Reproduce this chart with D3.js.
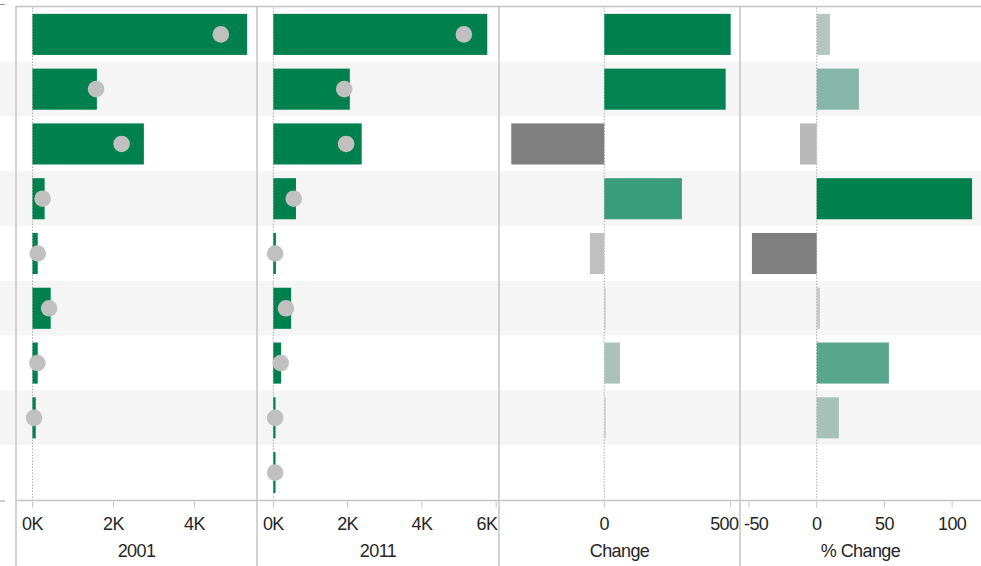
<!DOCTYPE html>
<html>
<head>
<meta charset="utf-8">
<script src="https://cdn.jsdelivr.net/npm/d3@7"></script>
<style>
  html, body { margin: 0; padding: 0; background: #fff; }
  svg { display: block; }
  text { font-family: "Liberation Sans", Arial, sans-serif; fill: #262626; }
</style>
</head>
<body>
<svg id="chart" width="981" height="566"></svg>
<script>
// ---- data ----
const categories = ["Row 1", "Row 2", "Row 3", "Row 4", "Row 5", "Row 6", "Row 7", "Row 8", "Row 9"];
const values2001 = [5300, 1590, 2750, 300, 130, 450, 130, 80, null];
const marker2001 = [4650, 1570, 2200, 250, 130, 410, 120, 40, null];
const values2011 = [5760, 2060, 2380, 610, 70, 480, 210, 60, 60];
const marker2011 = [5130, 1910, 1960, 550, 50, 340, 200, 50, 50];
const changeValues = [500, 480, -368, 307, -57, 5, 62, 4, null];
const pctChangeValues = [9.8, 31.2, -12.3, 114.7, -47.8, 2.4, 53.3, 16.4, null];

const ticks2001 = [0, 2000, 4000];
const ticks2011 = [0, 2000, 4000, 6000];
const ticksChange = [0, 500];
const ticksPct = [-50, 0, 50, 100];
const panelTitles = ["2001", "2011", "Change", "% Change"];

// ---- layout ----
const W = 981, H = 566;
const topY = 6.5, axisY = 500.5;
const svg = d3.select("#chart");

const y = d3.scaleBand().domain(categories).range([7, 500]).paddingInner(0.25).paddingOuter(0.125);
const step = y.step();

const plain = d => String(Math.round(d));
const kFmt = d => Math.round(d / 1000) + "K";

const panels = [
  { left: 16, right: 257, domain: [-407, 5543], ticks: ticks2001, fmt: kFmt,
    values: values2001, markers: marker2001, type: "value" },
  { left: 257, right: 499, domain: [-439, 6076], ticks: ticks2011, fmt: kFmt,
    values: values2011, markers: marker2011, type: "value" },
  { left: 499, right: 740, domain: [-416.5, 536.8], ticks: ticksChange, fmt: plain,
    values: changeValues, type: "diverge" },
  { left: 740, right: 981, domain: [-56.6, 121.3], ticks: ticksPct, fmt: plain,
    values: pctChangeValues, type: "diverge" }
];

// row bands
svg.append("g").selectAll("rect").data(categories).join("rect")
  .attr("x", 0).attr("width", W)
  .attr("y", d => y(d) - step * y.paddingInner() / 2)
  .attr("height", step)
  .attr("fill", (d, i) => i % 2 ? "#f5f5f5" : "#ffffff");

// small header bits at far left
svg.append("line").attr("x1", 0).attr("x2", 5).attr("y1", topY - 2).attr("y2", topY - 2).attr("stroke", "#999");
svg.append("line").attr("x1", 0).attr("x2", 5).attr("y1", axisY + 0.5).attr("y2", axisY + 0.5).attr("stroke", "#999");

panels.forEach((p, pi) => {
  const x = d3.scaleLinear().domain(p.domain).range([p.left, p.right]);
  const g = svg.append("g");
  const clipId = "clip" + pi;
  svg.append("clipPath").attr("id", clipId).append("rect")
    .attr("x", p.left).attr("y", 0).attr("width", p.right - p.left).attr("height", H);

  // zero line (dotted)
  g.append("line")
    .attr("x1", x(0)).attr("x2", x(0))
    .attr("y1", topY + 1).attr("y2", axisY)
    .attr("stroke", "#b0b0b0").attr("stroke-width", 1)
    .attr("stroke-dasharray", "1.5,1.5");

  const idx = categories.map((c, i) => i).filter(i => p.values[i] != null);

  if (p.type === "value") {
    g.selectAll("rect.bar").data(idx).join("rect").attr("class", "bar")
      .attr("x", i => x(0))
      .attr("width", i => Math.max(1.5, x(p.values[i]) - x(0)))
      .attr("y", i => y(categories[i]))
      .attr("height", y.bandwidth())
      .attr("fill", "#00804e");
    g.selectAll("circle").data(idx.filter(i => p.markers[i] != null)).join("circle")
      .attr("cx", i => x(p.markers[i]))
      .attr("cy", i => y(categories[i]) + y.bandwidth() / 2)
      .attr("r", 8.3)
      .attr("fill", "#c0c0c0");
  } else {
    const vals = idx.map(i => p.values[i]);
    const color = d3.scaleLinear()
      .domain([d3.min(vals), 0, d3.max(vals)])
      .range(["#808080", "#cccccc", "#00804e"])
      .interpolate(d3.interpolateRgb.gamma(0.75));
    g.selectAll("rect.bar").data(idx).join("rect").attr("class", "bar")
      .attr("x", i => Math.min(x(0), x(p.values[i])))
      .attr("width", i => Math.max(1.5, Math.abs(x(p.values[i]) - x(0))))
      .attr("y", i => y(categories[i]))
      .attr("height", y.bandwidth())
      .attr("fill", i => color(p.values[i]));
  }

  // axis ticks
  const ax = svg.append("g").attr("clip-path", `url(#${clipId})`);
  ax.selectAll("line").data(p.ticks).join("line")
    .attr("x1", d => x(d)).attr("x2", d => x(d))
    .attr("y1", axisY + 1).attr("y2", axisY + 7)
    .attr("stroke", "#c4c4c4").attr("stroke-width", 1);
  ax.selectAll("text").data(p.ticks).join("text")
    .attr("x", d => x(d)).attr("y", 530)
    .attr("text-anchor", "middle")
    .attr("font-size", 18).attr("letter-spacing", "-0.6px")
    .text(p.fmt)
    .each(function () {
      const bb = this.getBBox();
      let dx = 0;
      if (bb.x < p.left + 4) dx = p.left + 4 - bb.x;
      if (bb.x + bb.width > p.right - 1) dx = p.right - 1 - (bb.x + bb.width);
      if (dx) d3.select(this).attr("x", +d3.select(this).attr("x") + dx);
    });

  // panel title
  svg.append("text")
    .attr("x", (p.left + p.right) / 2).attr("y", 557)
    .attr("text-anchor", "middle")
    .attr("font-size", 18).attr("letter-spacing", "-0.6px")
    .text(panelTitles[pi]);
});

// borders
const border = "#c4c4c4";
svg.append("line").attr("x1", 15.5).attr("x2", W).attr("y1", topY).attr("y2", topY)
  .attr("stroke", border).attr("stroke-width", 1.5);
svg.append("line").attr("x1", 15.5).attr("x2", W).attr("y1", axisY).attr("y2", axisY)
  .attr("stroke", border).attr("stroke-width", 1.5);
svg.selectAll("line.vb").data(panels.map(p => p.left)).join("line").attr("class", "vb")
  .attr("x1", d => d).attr("x2", d => d)
  .attr("y1", topY).attr("y2", H)
  .attr("stroke", border).attr("stroke-width", 1.5);
</script>
</body>
</html>
